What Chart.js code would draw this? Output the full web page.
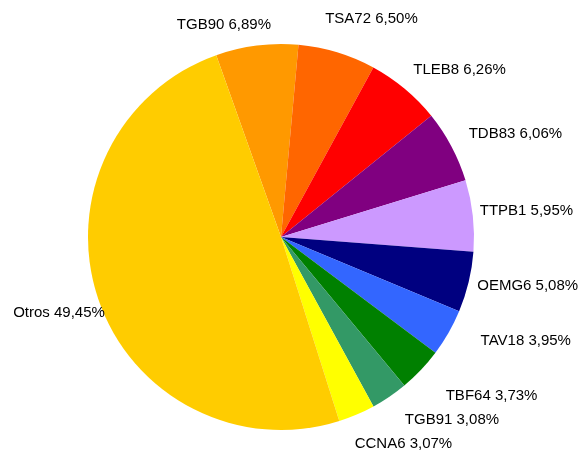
<!DOCTYPE html>
<html>
<head>
<meta charset="utf-8">
<script src="https://cdn.jsdelivr.net/npm/chart.js@4/dist/chart.umd.min.js"></script>
<style>
  html, body { margin: 0; padding: 0; background: #ffffff; }
  #wrap { width: 579px; height: 453px; }
</style>
</head>
<body>
<div id="wrap"><canvas id="pie"></canvas></div>
<script>
  // Share of each item, in percent, clockwise from the top
  const categories = ['TGB90', 'TSA72', 'TLEB8', 'TDB83', 'TTPB1', 'OEMG6', 'TAV18', 'TBF64', 'TGB91', 'CCNA6', 'Otros'];
  const shares = [6.89, 6.50, 6.26, 6.06, 5.95, 5.08, 3.95, 3.73, 3.08, 3.07, 49.45];
  const sliceColors = ['#ff9900', '#ff6600', '#ff0000', '#800080', '#cc99ff', '#000080', '#3366ff', '#008000', '#339966', '#ffff00', '#ffcc00'];

  const LABEL_FONT = '15px "Liberation Sans", Arial, sans-serif';
  const LABEL_GAP = 15;
  const LABEL_HEIGHT = 14;

  // Hand tweaks so neighbouring labels don't crowd each other
  const labelNudge = {
    TGB90: [-31, 1], TSA72: [30, -12], TLEB8: [-1, 0], TDB83: [4, 1],
    TTPB1: [-8, -3], OEMG6: [-6, 0], TAV18: [19, -6], TBF64: [14, 9],
    TGB91: [7, 4], CCNA6: [-8, 9], Otros: [21, 10]
  };

  function formatShare(v) {
    return v.toFixed(2).replace('.', ',') + '%';
  }

  // Writes "name value%" outside each slice; the box hangs off an anchor
  // on the slice's mid-angle, aligned by which side of the pie it is on
  const outsideLabels = {
    id: 'outsideLabels',
    afterDatasetsDraw(chart) {
      const ctx = chart.ctx;
      const meta = chart.getDatasetMeta(0);
      const lim = Math.cos(67.5 * Math.PI / 180);
      const limV = Math.sin(22.5 * Math.PI / 180);
      ctx.save();
      ctx.font = LABEL_FONT;
      ctx.fillStyle = '#000000';
      ctx.textAlign = 'center';
      ctx.textBaseline = 'middle';
      meta.data.forEach(function(arc, i) {
        const p = arc.getProps(['x', 'y', 'startAngle', 'endAngle', 'outerRadius'], true);
        const mid = (p.startAngle + p.endAngle) / 2;
        const dx = Math.cos(mid);
        const dy = Math.sin(mid);
        const r = p.outerRadius + LABEL_GAP;
        const ax = p.x + dx * r;
        const ay = p.y + dy * r;
        const text = categories[i] + ' ' + formatShare(shares[i]);
        const w = ctx.measureText(text).width;
        let cx = ax;
        let cy = ay;
        if (dx > lim) cx = ax + w / 2;
        else if (dx < -lim) cx = ax - w / 2;
        if (dy > limV) cy = ay + LABEL_HEIGHT / 2;
        else if (dy < -limV) cy = ay - LABEL_HEIGHT / 2;
        const n = labelNudge[categories[i]] || [0, 0];
        ctx.fillText(text, cx + n[0], cy + n[1]);
      });
      ctx.restore();
    }
  };

  new Chart(document.getElementById('pie'), {
    type: 'pie',
    data: {
      labels: categories,
      datasets: [{
        data: shares,
        backgroundColor: sliceColors,
        borderWidth: 0
      }]
    },
    options: {
      responsive: true,
      maintainAspectRatio: false,
      animation: false,
      rotation: -19.6,
      layout: {
        padding: { left: 88, right: 105, top: 44, bottom: 23 }
      },
      plugins: {
        legend: { display: false },
        tooltip: { enabled: false }
      }
    },
    plugins: [outsideLabels]
  });
</script>
</body>
</html>
